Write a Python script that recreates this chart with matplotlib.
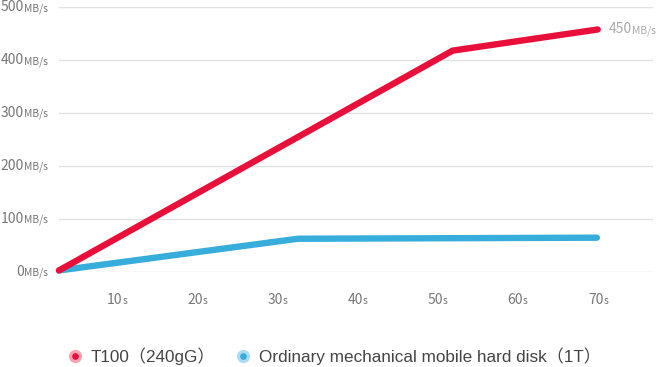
import matplotlib
matplotlib.use("Agg")
import matplotlib.pyplot as plt

plt.rcParams['font.family'] = ['Noto Sans CJK JP', 'DejaVu Sans']

# ---- data ----
t100_time = [3.1, 52.2, 70.3]
t100_speed = [2, 418, 458]
hdd_time = [3.1, 32.9, 70.2]
hdd_speed = [2, 62, 64]
x_ticks = [10, 20, 30, 40, 50, 60, 70]
y_ticks = [0, 100, 200, 300, 400, 500]
end_label = "450"
series_names = ["T100（240gG）", "Ordinary mechanical mobile hard disk（1T）"]

RED = "#E8103A"
BLUE = "#36ADDA"
RED_LIGHT = "#F7A3B4"
BLUE_LIGHT = "#AADDF2"

W, H = 656, 367
fig = plt.figure(figsize=(W / 100, H / 100), dpi=100)
ax = fig.add_axes([59 / W, 1 - 271.5 / H, (653 - 59) / W, (271.5 - 7.3) / H])
ax.set_xlim(3.1, 77.2)
ax.set_ylim(0, 500)
for s in ax.spines.values():
    s.set_visible(False)
ax.set_xticks([])
ax.set_yticks([])
for v in y_ticks:
    ax.axhline(v, color="#e2e2e2", lw=1.0, zorder=0)

ax.plot(hdd_time, hdd_speed, color=BLUE, lw=4.6, solid_capstyle="round",
        solid_joinstyle="round", clip_on=False, zorder=3)
ax.plot(t100_time, t100_speed, color=RED, lw=4.6, solid_capstyle="round",
        solid_joinstyle="round", clip_on=False, zorder=4)

TICK_C = "#777777"
NUM_FS = 10.0
UNIT_FS = 7.4
# y tick labels
for v in y_ticks:
    ax.annotate("MB/s", xy=(0, v), xycoords=("axes fraction", "data"),
                xytext=(-35, -4), textcoords="offset pixels", ha="left",
                va="baseline", fontsize=UNIT_FS, color=TICK_C)
    ax.annotate(str(v), xy=(0, v), xycoords=("axes fraction", "data"),
                xytext=(-35, -4), textcoords="offset pixels", ha="right",
                va="baseline", fontsize=NUM_FS, color=TICK_C)

# x tick labels
for v in x_ticks:
    ax.annotate(str(v), xy=(v, 0), xycoords=("data", "axes fraction"),
                xytext=(8, -32), textcoords="offset pixels", ha="right",
                va="baseline", fontsize=NUM_FS, color=TICK_C)
    ax.annotate("s", xy=(v, 0), xycoords=("data", "axes fraction"),
                xytext=(8, -32), textcoords="offset pixels", ha="left",
                va="baseline", fontsize=UNIT_FS, color=TICK_C)

# end label
ax.annotate(end_label, xy=(t100_time[-1], t100_speed[-1]), xycoords="data",
            xytext=(34, -4), textcoords="offset pixels", ha="right",
            va="baseline", fontsize=NUM_FS, color="#aaaaaa")
ax.annotate("MB/s", xy=(t100_time[-1], t100_speed[-1]), xycoords="data",
            xytext=(34, -4), textcoords="offset pixels", ha="left",
            va="baseline", fontsize=UNIT_FS, color="#aaaaaa")

# legend
leg_y = 1 - 356 / H
for cx, tx, name, c, cl in [(75, 91, series_names[0], RED, RED_LIGHT),
                            (243, 259, series_names[1], BLUE, BLUE_LIGHT)]:
    fig.add_artist(plt.Line2D([cx / W], [leg_y], marker="o", markersize=9.5,
                              color=cl, markeredgewidth=0, transform=fig.transFigure))
    fig.add_artist(plt.Line2D([cx / W], [leg_y], marker="o", markersize=4.8,
                              color=c, markeredgewidth=0, transform=fig.transFigure))
    fig.text(tx / W, 1 - 362 / H, name, ha="left", va="baseline",
             fontsize=12.3, color="#444444",
             family=["Liberation Sans", "Noto Sans CJK JP"])

fig.savefig("out.png", dpi=100)
